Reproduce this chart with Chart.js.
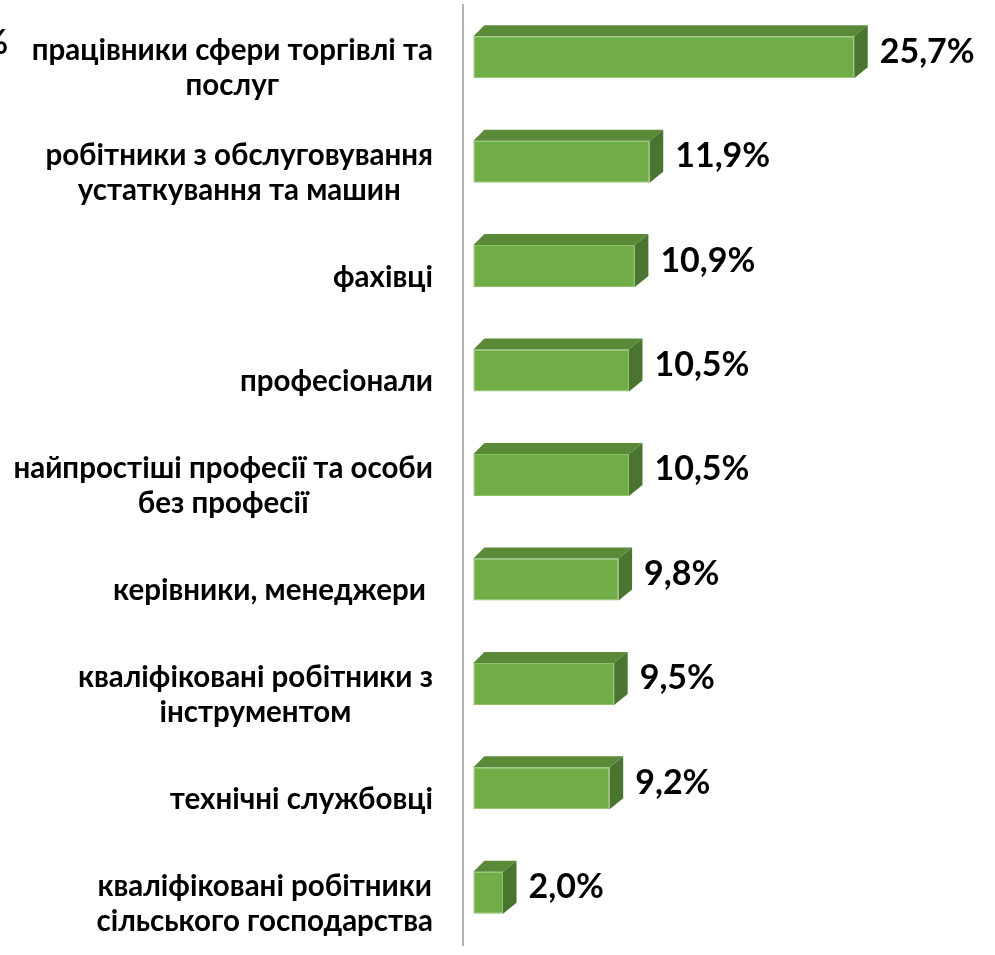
<!DOCTYPE html>
<html>
<head>
<meta charset="utf-8">
<script src="https://cdn.jsdelivr.net/npm/chart.js@4.4.1/dist/chart.umd.min.js"></script>
<style>
  html, body { margin: 0; padding: 0; background: #ffffff; }
  #wrap { width: 995px; height: 955px; position: relative; }
</style>
</head>
<body>
<div id="wrap"><canvas id="c"></canvas></div>
<script>
// ---- data ----
const categories = [
  ['працівники сфери торгівлі та', 'послуг'],
  ['робітники з обслуговування', 'устаткування та машин'],
  ['фахівці'],
  ['професіонали'],
  ['найпростіші професії та особи', 'без професії'],
  ['керівники, менеджери '],
  ['кваліфіковані робітники з', 'інструментом'],
  ['технічні службовці'],
  ['кваліфіковані робітники', 'сільського господарства']
];
const values = [25.7, 11.9, 10.9, 10.5, 10.5, 9.8, 9.5, 9.2, 2.0];
const valueLabels = ['25,7%', '11,9%', '10,9%', '10,5%', '10,5%', '9,8%', '9,5%', '9,2%', '2,0%'];

// ---- style ----
const FONT_FAMILY = 'Lato, "Open Sans", "DejaVu Sans", sans-serif';
const CAT_FONT = 'bold 29.5px ' + FONT_FAMILY;
const VAL_FONT = 'bold 34px ' + FONT_FAMILY;
const CAT_LINE_H = 35;
const CAT_OFFSET = 11;
const LABEL_RIGHT = 433;
const FRONT = '#70AD47';
const TOP = '#5A8A38';
const SIDE = '#4A7530';
const DX_LEFT = 11, DX_RIGHT = 13.5, DY = 11;

const threeD = {
  id: 'threeD',
  afterDatasetsDraw(chart) {
    const ctx = chart.ctx;
    const meta = chart.getDatasetMeta(0);
    ctx.save();
    meta.data.forEach((bar) => {
      const p = bar.getProps(['x', 'y', 'base', 'height'], true);
      const top = p.y - p.height / 2;
      const bottom = p.y + p.height / 2;
      // top face
      ctx.fillStyle = TOP;
      ctx.beginPath();
      ctx.moveTo(p.base, top);
      ctx.lineTo(p.base + DX_LEFT, top - DY);
      ctx.lineTo(p.x + DX_RIGHT, top - DY);
      ctx.lineTo(p.x, top);
      ctx.closePath();
      ctx.fill();
      // side face
      ctx.fillStyle = SIDE;
      ctx.beginPath();
      ctx.moveTo(p.x, top);
      ctx.lineTo(p.x + DX_RIGHT, top - DY);
      ctx.lineTo(p.x + DX_RIGHT, bottom - DY);
      ctx.lineTo(p.x, bottom);
      ctx.closePath();
      ctx.fill();
    });
    ctx.restore();
  },
  afterDraw(chart) {
    const ctx = chart.ctx;
    const yScale = chart.scales.y;
    const meta = chart.getDatasetMeta(0);
    ctx.save();
    ctx.fillStyle = '#000000';
    // category labels: block right aligned, lines centered in block
    ctx.font = CAT_FONT;
    ctx.textBaseline = 'middle';
    ctx.textAlign = 'center';
    categories.forEach((lines, i) => {
      const cy = yScale.getPixelForValue(i) + CAT_OFFSET;
      const w = Math.max(...lines.map(l => ctx.measureText(l).width));
      const cx = LABEL_RIGHT - w / 2;
      lines.forEach((l, j) => {
        const ly = cy + (j - (lines.length - 1) / 2) * CAT_LINE_H;
        ctx.fillText(l, cx, ly);
      });
    });
    // value labels
    ctx.font = VAL_FONT;
    ctx.textAlign = 'left';
    meta.data.forEach((bar, i) => {
      const p = bar.getProps(['x', 'y'], true);
      ctx.fillText(valueLabels[i], p.x + DX_RIGHT + 12, p.y - DY / 2);
    });
    // cut-off fragment at top-left edge
    ctx.font = VAL_FONT;
    ctx.textAlign = 'right';
    ctx.textBaseline = 'alphabetic';
    ctx.fillText('%', 8, 54);
    ctx.restore();
  }
};

new Chart(document.getElementById('c'), {
  type: 'bar',
  data: {
    labels: categories,
    datasets: [{
      data: values,
      backgroundColor: FRONT,
      borderColor: '#8CC266',
      borderWidth: 1,
      borderSkipped: false,
      categoryPercentage: 1,
      barPercentage: 0.402
    }]
  },
  options: {
    indexAxis: 'y',
    responsive: true,
    maintainAspectRatio: false,
    animation: false,
    layout: { padding: { top: 5, bottom: 10, left: 0, right: 40 } },
    plugins: { legend: { display: false }, tooltip: { enabled: false }, title: { display: false } },
    scales: {
      x: {
        display: false,
        min: -0.7,
        max: 32.5
      },
      y: {
        display: true,
        grid: { display: false, drawTicks: false },
        border: { display: true, color: '#B4B4B4', width: 2 },
        ticks: { display: false },
        afterFit(scale) { scale.width = 463; }
      }
    }
  },
  plugins: [threeD]
});
</script>
</body>
</html>
